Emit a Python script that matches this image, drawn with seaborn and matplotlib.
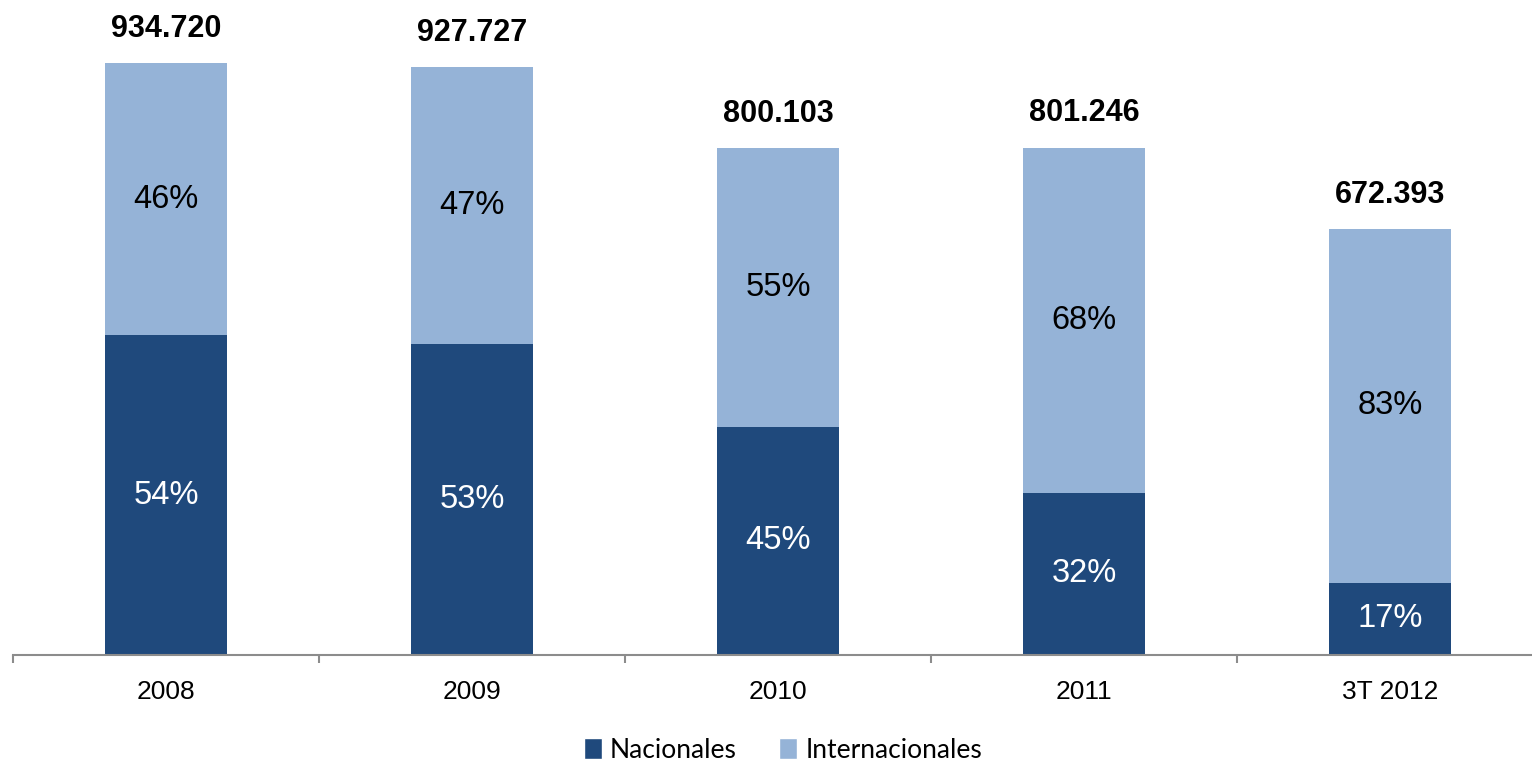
import matplotlib
matplotlib.use("Agg")
import matplotlib.pyplot as plt
from matplotlib.patches import Patch
import seaborn as sns
import numpy as np

# datos
categorias = ["2008", "2009", "2010", "2011", "3T 2012"]
totales = [934720, 927727, 800103, 801246, 672393]
pct_nacionales = [54, 53, 45, 32, 17]
pct_internacionales = [46, 47, 55, 68, 83]

color_nac = "#1F497C"
color_int = "#95B3D7"

sns.set_style("white")
plt.rcParams["font.family"] = ["Liberation Sans", "DejaVu Sans"]
plt.rcParams["text.color"] = "black"
plt.rcParams["xtick.color"] = "black"

fig = plt.figure(figsize=(15.32, 7.62), dpi=100)
ax = fig.add_axes([13 / 1532, 107 / 762, 1530 / 1532, 655 / 762])

nacionales = [t * p / 100 for t, p in zip(totales, pct_nacionales)]

# total (claro) y encima la parte nacional (oscuro)
sns.barplot(x=categorias, y=totales, color=color_int, width=0.4,
            saturation=1, ax=ax, edgecolor="none")
sns.barplot(x=categorias, y=nacionales, color=color_nac, width=0.4,
            saturation=1, ax=ax, edgecolor="none")

ax.set_xlim(-0.5, 4.5)
ax.set_ylim(0, 1034200)

for i in range(len(categorias)):
    t = totales[i]
    n = nacionales[i]
    ax.text(i, n / 2, f"{pct_nacionales[i]}%", ha="center", va="center",
            color="white", fontsize=23.5)
    ax.text(i, n + (t - n) / 2, f"{pct_internacionales[i]}%", ha="center",
            va="center", color="black", fontsize=23.5)
    etiqueta = f"{t:,}".replace(",", ".")
    ax.annotate(etiqueta, (i, t), xytext=(0, 14), textcoords="offset points",
                ha="center", va="bottom", fontsize=22, fontweight="bold",
                color="black")

sns.despine(ax=ax, left=True, top=True, right=True)
ax.spines["bottom"].set_color("#8C8C8C")
ax.spines["bottom"].set_linewidth(1.5)
ax.set_yticks([])
ax.set_xticks(np.arange(-0.5, 5, 1), minor=True)
ax.tick_params(axis="x", which="major", length=0, pad=18, labelsize=19,
               labelcolor="black")
ax.tick_params(axis="x", which="minor", bottom=True, length=6, width=1.5,
               color="#8C8C8C", direction="out")
ax.set_xlabel("")
ax.set_ylabel("")

handles = [Patch(facecolor=color_nac, label="Nacionales"),
           Patch(facecolor=color_int, label="Internacionales")]
fig.legend(handles=handles, loc="lower center", bbox_to_anchor=(0.511, -0.032),
           ncol=2, frameon=False, prop={"family": "Lato", "size": 19},
           handlelength=0.7, handleheight=0.8, handletextpad=0.3,
           columnspacing=1.6)

fig.savefig("out.png", dpi=100)
